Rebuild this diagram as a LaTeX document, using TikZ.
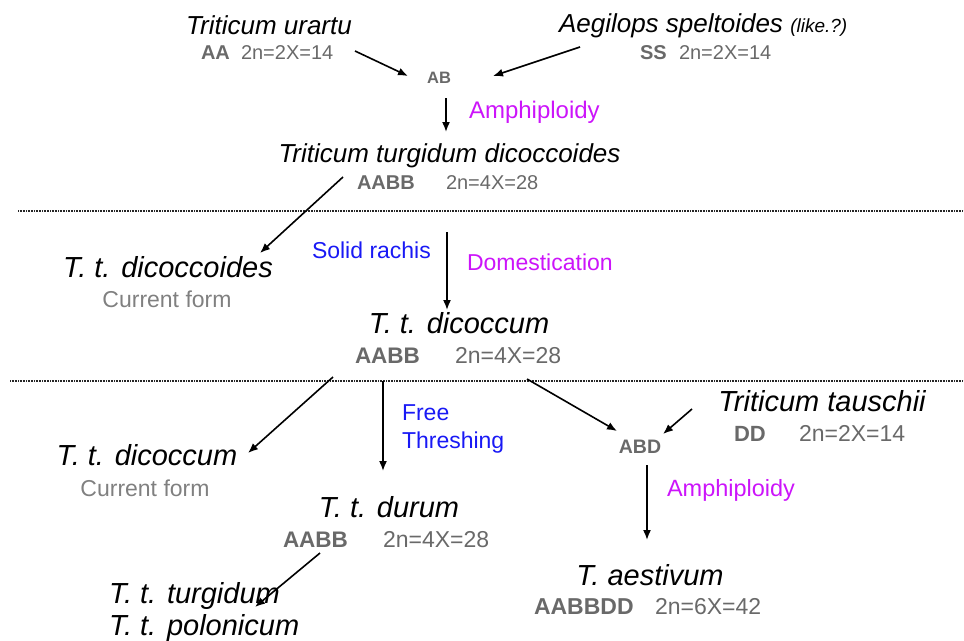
\documentclass[tikz,border=0pt]{standalone}
\usepackage{fontspec}
\setmainfont{Liberation Sans}
\usetikzlibrary{arrows.meta}
\definecolor{txtgray}{RGB}{105,105,105}
\definecolor{formgray}{RGB}{128,128,128}
\definecolor{mag}{RGB}{204,20,250}
\definecolor{blu}{RGB}{25,25,245}
\begin{document}
\begin{tikzpicture}[x=1pt,y=-1pt,
  every node/.style={inner sep=0pt, outer sep=0pt},
  sp/.style={anchor=base, font=\fontsize{#1}{#1}\selectfont\itshape},
  gen/.style={anchor=base west, text=txtgray, font=\fontsize{#1}{#1}\selectfont\bfseries},
  chr/.style={anchor=base west, text=txtgray, font=\fontsize{#1}{#1}\selectfont},
  cur/.style={anchor=base, text=formgray, font=\fontsize{23}{23}\selectfont},
  evt/.style={anchor=base west, text=mag, font=\fontsize{#1}{#1}\selectfont},
  trait/.style={anchor=base west, text=blu, font=\fontsize{23}{23}\selectfont},
  arr/.style={line width=1.6pt, -{Latex[length=10pt,width=8pt]}},
  sep/.style={line width=1.1pt, black!85, dash pattern=on 1pt off 0.6pt}]
\useasboundingbox (0,0) rectangle (964,640);

% top level
\node[sp=26] (urartu) at (269,34) {Triticum urartu};
\node[gen=20] (aa) at (201,59) {AA};
\node[chr=20] (aan) at (241,59) {2n=2X=14};
\node[sp=26, anchor=base west] (aeg) at (559,32) {Aegilops speltoides {\fontsize{19}{19}\selectfont(like.?)}};
\node[gen=20] (ss) at (640,59) {SS};
\node[chr=20] (ssn) at (679,59) {2n=2X=14};
\node[gen=16.5, anchor=base] (ab) at (439,83) {AB};
\node[evt=24] (amph1) at (469,118) {Amphiploidy};
\node[sp=26] (ttd) at (449.5,162) {Triticum turgidum dicoccoides};
\node[gen=20] (ttdg) at (357,189) {AABB};
\node[chr=20] (ttdn) at (446,189) {2n=4X=28};

% separators
\coordinate (s1a) at (18,211); \coordinate (s1b) at (964,211);
\coordinate (s2a) at (10,381); \coordinate (s2b) at (964,381);
\draw[sep] (s1a) -- (s1b);
\draw[sep] (s2a) -- (s2b);

% middle level
\node[sp=29] (dcd) at (168,277) {T. t. dicoccoides};
\node[cur] (dcdc) at (167,307) {Current form};
\node[trait] (solid) at (312,258) {Solid rachis};
\node[evt=23] (dom) at (467,270) {Domestication};
\node[sp=29] (dcm) at (459,333) {T. t. dicoccum};
\node[gen=22.5] (dcmg) at (355,363) {AABB};
\node[chr=23] (dcmn) at (455,363) {2n=4X=28};

% lower level
\node[sp=29] (dcm2) at (147,465) {T. t. dicoccum};
\node[cur] (dcm2c) at (145,496) {Current form};
\node[trait] (free) at (402,420) {Free};
\node[trait] (thr) at (402,448) {Threshing};
\node[sp=29] (dur) at (389,517) {T. t. durum};
\node[gen=22.5] (durg) at (283,547) {AABB};
\node[chr=23] (durn) at (383,547) {2n=4X=28};
\node[sp=29, anchor=base west] (turg) at (109,603) {T. t. turgidum};
\node[sp=29, anchor=base west] (pol) at (109,635) {T. t. polonicum};
\node[gen=19.5, anchor=base] (abd) at (640,453) {ABD};
\node[sp=29] (taus) at (822,411) {Triticum tauschii};
\node[gen=22] (dd) at (734,441) {DD};
\node[chr=23] (ddn) at (799,441) {2n=2X=14};
\node[evt=23.5] (amph2) at (667,496) {Amphiploidy};
\node[sp=29] (aest) at (650,585) {T. aestivum};
\node[gen=23] (aestg) at (534,614) {AABBDD};
\node[chr=23] (aestn) at (655,614) {2n=6X=42};

% arrow end points
\coordinate (a1s) at (355,51);  \coordinate (a1e) at (408,76);
\coordinate (a2s) at (580,47);  \coordinate (a2e) at (493,76);
\coordinate (a3s) at (446,98);  \coordinate (a3e) at (446,132);
\coordinate (a4s) at (343,177); \coordinate (a4e) at (260,253);
\coordinate (a5s) at (447,232); \coordinate (a5e) at (447,310);
\coordinate (a6s) at (333,377); \coordinate (a6e) at (248,453);
\coordinate (a7s) at (383,381); \coordinate (a7e) at (383,471);
\coordinate (a8s) at (527,379); \coordinate (a8e) at (617,431);
\coordinate (a9s) at (692,409); \coordinate (a9e) at (663,434);
\coordinate (a10s) at (647,465); \coordinate (a10e) at (647,540);
\coordinate (a11s) at (320,553); \coordinate (a11e) at (255,607);

\draw[arr] (a1s) -- (a1e);
\draw[arr] (a2s) -- (a2e);
\draw[arr] (a3s) -- (a3e);
\draw[arr] (a4s) -- (a4e);
\draw[arr] (a5s) -- (a5e);
\draw[arr] (a6s) -- (a6e);
\draw[arr] (a7s) -- (a7e);
\draw[arr] (a8s) -- (a8e);
\draw[arr] (a9s) -- (a9e);
\draw[arr] (a10s) -- (a10e);
\draw[arr] (a11s) -- (a11e);
\end{tikzpicture}
\end{document}
